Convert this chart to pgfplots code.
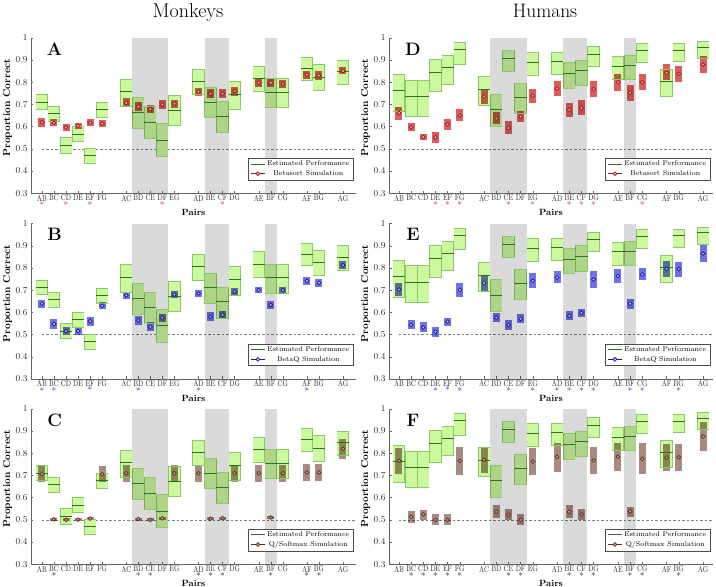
\documentclass[border=0pt]{standalone}
\usepackage{graphicx}
\usepackage{pgfplots}
\pgfplotsset{compat=1.18}
\usepackage{pgfplotstable}

\definecolor{gfill}{RGB}{204,248,158}
\definecolor{gborder}{RGB}{140,200,105}
\definecolor{gmean}{RGB}{45,115,35}
\definecolor{greyreg}{RGB}{218,218,218}
\definecolor{rbox}{RGB}{224,92,92}
\definecolor{rring}{RGB}{150,25,25}
\definecolor{rfill}{RGB}{245,175,175}
\definecolor{bbox}{RGB}{112,112,236}
\definecolor{bring}{RGB}{25,25,130}
\definecolor{bfill}{RGB}{190,190,250}
\definecolor{qbox}{RGB}{168,138,128}
\definecolor{qring}{RGB}{95,45,30}
\definecolor{qfill}{RGB}{200,165,150}
\definecolor{starR}{RGB}{230,40,40}
\definecolor{starB}{RGB}{50,50,230}
\definecolor{starK}{RGB}{40,40,40}

% estimated performance, monkeys / humans (x lo mean hi)
\pgfplotstableread{
x lo m hi
0 0.680 0.710 0.745
1 0.625 0.660 0.692
2 0.482 0.515 0.550
3 0.532 0.567 0.602
4 0.435 0.470 0.503
5 0.642 0.676 0.710
7 0.690 0.757 0.815
8 0.593 0.662 0.730
9 0.549 0.620 0.692
10 0.465 0.540 0.614
11 0.605 0.672 0.740
13 0.744 0.805 0.860
14 0.643 0.710 0.778
15 0.575 0.648 0.715
16 0.678 0.746 0.806
18 0.757 0.816 0.873
19 0.688 0.755 0.816
20 0.688 0.755 0.816
22 0.810 0.862 0.913
23 0.765 0.823 0.880
25 0.790 0.848 0.900
}\greenM
\pgfplotstableread{
x lo m hi
0 0.670 0.762 0.835
1 0.645 0.735 0.810
2 0.645 0.735 0.810
3 0.760 0.842 0.902
4 0.790 0.867 0.922
5 0.882 0.948 0.978
7 0.697 0.768 0.825
8 0.603 0.678 0.747
9 0.847 0.905 0.942
10 0.660 0.732 0.795
11 0.832 0.889 0.933
13 0.835 0.894 0.933
14 0.774 0.840 0.889
15 0.787 0.852 0.900
16 0.873 0.927 0.960
18 0.812 0.872 0.915
19 0.813 0.874 0.920
20 0.889 0.942 0.975
22 0.735 0.804 0.858
23 0.894 0.945 0.975
25 0.907 0.958 0.982
}\greenH

% simulations
\pgfplotstableread{
x lo m hi
0 0.600 0.620 0.638
1 0.603 0.618 0.633
2 0.582 0.596 0.610
3 0.590 0.604 0.618
4 0.603 0.618 0.633
5 0.597 0.614 0.630
7 0.687 0.707 0.727
8 0.670 0.690 0.710
9 0.660 0.679 0.698
10 0.680 0.699 0.718
11 0.683 0.703 0.722
13 0.740 0.757 0.775
14 0.728 0.748 0.768
15 0.728 0.748 0.768
16 0.740 0.760 0.780
18 0.780 0.798 0.815
19 0.780 0.797 0.815
20 0.775 0.793 0.812
22 0.815 0.834 0.852
23 0.810 0.830 0.850
25 0.835 0.851 0.867
}\simA
\pgfplotstableread{
x lo m hi
0 0.620 0.639 0.657
1 0.527 0.547 0.570
2 0.498 0.516 0.535
3 0.497 0.516 0.535
4 0.540 0.560 0.580
5 0.614 0.630 0.646
7 0.660 0.676 0.692
8 0.545 0.565 0.585
9 0.515 0.535 0.555
10 0.558 0.576 0.593
11 0.665 0.680 0.695
13 0.670 0.685 0.702
14 0.560 0.580 0.600
15 0.572 0.589 0.606
16 0.676 0.693 0.710
18 0.685 0.700 0.716
19 0.615 0.633 0.652
20 0.685 0.700 0.716
22 0.725 0.742 0.760
23 0.715 0.733 0.751
25 0.795 0.812 0.830
}\simB
\pgfplotstableread{
x lo m hi
0 0.672 0.706 0.743
1 0.497 0.503 0.510
2 0.494 0.500 0.507
3 0.494 0.501 0.508
4 0.499 0.506 0.512
5 0.672 0.706 0.743
7 0.672 0.710 0.745
8 0.497 0.504 0.510
9 0.494 0.500 0.507
10 0.500 0.507 0.513
11 0.672 0.710 0.745
13 0.672 0.710 0.745
14 0.498 0.505 0.511
15 0.501 0.508 0.514
16 0.672 0.710 0.745
18 0.672 0.710 0.745
19 0.504 0.511 0.518
20 0.672 0.710 0.745
22 0.676 0.714 0.750
23 0.676 0.713 0.750
25 0.775 0.820 0.862
}\simC
\pgfplotstableread{
x lo m hi
0 0.632 0.661 0.690
1 0.580 0.597 0.615
2 0.540 0.553 0.566
3 0.528 0.552 0.575
4 0.585 0.610 0.635
5 0.625 0.650 0.678
7 0.700 0.736 0.770
8 0.610 0.637 0.665
9 0.565 0.594 0.625
10 0.620 0.645 0.670
11 0.708 0.739 0.770
13 0.738 0.772 0.805
14 0.645 0.676 0.705
15 0.653 0.685 0.718
16 0.735 0.769 0.805
18 0.760 0.800 0.835
19 0.716 0.753 0.786
20 0.765 0.800 0.835
22 0.810 0.843 0.880
23 0.800 0.838 0.875
25 0.840 0.880 0.920
}\simD
\pgfplotstableread{
x lo m hi
0 0.675 0.703 0.730
1 0.525 0.544 0.565
2 0.510 0.532 0.555
3 0.490 0.513 0.535
4 0.540 0.558 0.576
5 0.670 0.700 0.730
7 0.695 0.732 0.765
8 0.555 0.576 0.596
9 0.520 0.543 0.565
10 0.550 0.571 0.591
11 0.710 0.742 0.775
13 0.730 0.757 0.785
14 0.565 0.585 0.606
15 0.580 0.598 0.616
16 0.710 0.748 0.785
18 0.730 0.763 0.795
19 0.615 0.639 0.662
20 0.745 0.770 0.800
22 0.760 0.796 0.830
23 0.760 0.795 0.826
25 0.825 0.865 0.905
}\simE
\pgfplotstableread{
x lo m hi
0 0.705 0.766 0.825
1 0.485 0.513 0.540
2 0.500 0.524 0.545
3 0.475 0.500 0.525
4 0.478 0.500 0.525
5 0.700 0.766 0.828
7 0.710 0.770 0.830
8 0.510 0.536 0.565
9 0.500 0.523 0.548
10 0.475 0.500 0.525
11 0.700 0.763 0.825
13 0.715 0.784 0.845
14 0.510 0.536 0.565
15 0.500 0.524 0.550
16 0.705 0.768 0.830
18 0.720 0.785 0.845
19 0.515 0.538 0.560
20 0.705 0.775 0.845
22 0.720 0.780 0.840
23 0.720 0.782 0.840
25 0.810 0.875 0.940
}\simF

% tick labels: pair name, optionally with a coloured asterisk beneath
\newcommand{\plab}[1]{\scalebox{0.78}[1]{#1}}
\newcommand{\sigmk}[1]{\\[-1pt]\textcolor{#1}{\fontsize{9.5}{9.5}\selectfont *}}
\newcommand{\lR}[1]{\plab{#1}\sigmk{starR}}
\newcommand{\lB}[1]{\plab{#1}\sigmk{starB}}
\newcommand{\lK}[1]{\plab{#1}\sigmk{starK}}

\tikzset{panlab/.style={font=\bfseries\fontsize{18}{18}\selectfont}}

\pgfplotsset{
  panel/.style={
    scale only axis, height=155.5pt, anchor=south west,
    ymin=0.3, ymax=1, ytick={0.3,0.4,0.5,0.6,0.7,0.8,0.9,1},
    xtick={0,1,2,3,4,5,7,8,9,10,11,13,14,15,16,18,19,20,22,23,25},
    axis lines=left, axis line style={-, black!60, line width=0.5pt},
    tick align=inside, major tick length=2.5pt, tick style={black!60, line width=0.4pt},
    yticklabel style={font=\fontsize{9}{9}\selectfont, text=black!85},
    xticklabel style={font=\fontsize{8.5}{8.5}\selectfont, text=black!85, align=center, inner sep=1.5pt},
    xlabel={Pairs}, ylabel={Proportion Correct},
    every axis x label/.style={at={(axis description cs:0.5,-0.122)}, anchor=center,
      font=\bfseries\fontsize{9}{9}\selectfont},
    every axis y label/.style={at={(axis description cs:-0.072,0.55)}, rotate=90, anchor=center,
      font=\bfseries\fontsize{10}{10}\selectfont},
    legend style={at={(0.992,0.085)}, anchor=south east, font=\fontsize{7}{8}\selectfont,
      draw=black!70, line width=0.4pt, inner xsep=2pt, inner ysep=1pt, row sep=-1pt,
      cells={anchor=center}},
    legend image code/.code={\draw[mark repeat=2, mark phase=2, #1]
      plot coordinates {(0pt,0pt) (7pt,0pt) (14pt,0pt)};},
  },
}

\newcommand{\estboxes}[1]{%
  \addplot[forget plot, draw=none, mark=none, error bars/.cd, y dir=both, y explicit,
    error mark=none, error bar style={line width=12.2pt, draw=gborder}]
    table[x=x, y=m, y error plus expr=\thisrow{hi}-\thisrow{m},
      y error minus expr=\thisrow{m}-\thisrow{lo}] {#1};
  \addplot[forget plot, draw=none, mark=none, error bars/.cd, y dir=both, y explicit,
    error mark=none, error bar style={line width=11pt, draw=gfill}]
    table[x=x, y=m, y error plus expr=\thisrow{hi}-\thisrow{m},
      y error minus expr=\thisrow{m}-\thisrow{lo}] {#1};
  \addplot[forget plot, only marks, mark=-, mark size=6.1pt,
    mark options={draw=gborder, line width=0.6pt}] table[x=x, y=hi] {#1};
  \addplot[forget plot, only marks, mark=-, mark size=6.1pt,
    mark options={draw=gborder, line width=0.6pt}] table[x=x, y=lo] {#1};
  \addplot[forget plot, only marks, mark=-, mark size=6.1pt,
    mark options={draw=gmean, line width=0.9pt}] table[x=x, y=m] {#1};
}
\newcommand{\simboxes}[4]{%
  \addplot[forget plot, draw=none, mark=none, error bars/.cd, y dir=both, y explicit,
    error mark=none, error bar style={line width=7pt, draw=#2, blend mode=multiply}]
    table[x=x, y=m, y error plus expr=\thisrow{hi}-\thisrow{m},
      y error minus expr=\thisrow{m}-\thisrow{lo}] {#1};
  \addplot[forget plot, only marks, mark=*, mark size=1.9pt,
    mark options={draw=#3, fill=#4, line width=0.7pt}] table[x=x, y=m] {#1};
}
\newcommand{\backdrop}[1]{%
  \draw[black!50, line width=0.5pt, dash pattern=on 2.5pt off 2pt]
    (axis cs:0,0.5) -- (axis cs:#1,0.5);
}
\newcommand{\greyregions}{%
  \fill[greyreg, blend mode=multiply] (axis cs:7.5,0.3) rectangle (axis cs:10.5,1);
  \fill[greyreg, blend mode=multiply] (axis cs:13.5,0.3) rectangle (axis cs:15.5,1);
  \fill[greyreg, blend mode=multiply] (axis cs:18.5,0.3) rectangle (axis cs:19.5,1);
}
\newcommand{\legendfor}[3]{%
  \addlegendimage{draw=gmean, line width=0.9pt}
  \addlegendentry{Estimated Performance}
  \addlegendimage{draw=#1, line width=0.9pt, mark=*, mark size=1.9pt,
    mark options={draw=#1, fill=#2, line width=0.7pt}}
  \addlegendentry{#3}
}

\begin{document}
\begin{tikzpicture}
\useasboundingbox (0,0) rectangle (716pt,587pt);

\node[font=\fontsize{20}{20}\selectfont, anchor=base] at (188pt,569pt) {Monkeys};
\node[font=\fontsize{19.5}{20}\selectfont, anchor=base] at (545pt,569pt) {Humans};

% ---- Monkeys
\begin{axis}[panel, at={(31pt,393.7pt)}, width=325pt, xmin=-0.91, xmax=26.08,
  xticklabels={\lR{AB},\plab{BC},\lR{CD},\plab{DE},\lR{EF},\plab{FG},\plab{AC},\plab{BD},\plab{CE},\lR{DF},\plab{EG},
    \plab{AD},\plab{BE},\lR{CF},\plab{DG},\plab{AE},\plab{BF},\plab{CG},\plab{AF},\plab{BG},\plab{AG}}]
  \backdrop{26.08}
  \estboxes{\greenM}
  \simboxes{\simA}{rbox}{rring}{rfill}
  \greyregions
  \node[panlab] at (axis cs:1.05,0.95) {A};
  \legendfor{rring}{rfill}{Betasort Simulation}
\end{axis}

\begin{axis}[panel, at={(31pt,208pt)}, width=325pt, xmin=-0.91, xmax=26.08,
  xticklabels={\lB{AB},\lB{BC},\plab{CD},\plab{DE},\lB{EF},\plab{FG},\plab{AC},\lB{BD},\plab{CE},\plab{DF},\plab{EG},
    \lB{AD},\plab{BE},\plab{CF},\plab{DG},\plab{AE},\plab{BF},\plab{CG},\lB{AF},\plab{BG},\plab{AG}}]
  \backdrop{26.08}
  \estboxes{\greenM}
  \simboxes{\simB}{bbox}{bring}{bfill}
  \greyregions
  \node[panlab] at (axis cs:1.05,0.95) {B};
  \legendfor{bring}{bfill}{BetaQ Simulation}
\end{axis}

\begin{axis}[panel, at={(31pt,22.7pt)}, width=325pt, xmin=-0.91, xmax=26.08,
  xticklabels={\plab{AB},\lK{BC},\plab{CD},\plab{DE},\plab{EF},\plab{FG},\plab{AC},\lK{BD},\lK{CE},\plab{DF},\plab{EG},
    \lK{AD},\lK{BE},\lK{CF},\plab{DG},\plab{AE},\lK{BF},\plab{CG},\lK{AF},\lK{BG},\plab{AG}}]
  \backdrop{26.08}
  \estboxes{\greenM}
  \simboxes{\simC}{qbox}{qring}{qfill}
  \greyregions
  \node[panlab] at (axis cs:1.05,0.95) {C};
  \legendfor{qring}{qfill}{Q/Softmax Simulation}
\end{axis}

% ---- Humans
\begin{axis}[panel, at={(389pt,393.7pt)}, width=324pt, xmin=-0.82, xmax=25.82,
  xticklabels={\plab{AB},\plab{BC},\plab{CD},\lR{DE},\lR{EF},\lR{FG},\plab{AC},\plab{BD},\lR{CE},\plab{DF},\lR{EG},
    \plab{AD},\lR{BE},\lR{CF},\lR{DG},\plab{AE},\plab{BF},\lR{CG},\plab{AF},\plab{BG},\plab{AG}}]
  \backdrop{25.82}
  \estboxes{\greenH}
  \simboxes{\simD}{rbox}{rring}{rfill}
  \greyregions
  \node[panlab] at (axis cs:1.15,0.95) {D};
  \legendfor{rring}{rfill}{Betasort Simulation}
\end{axis}

\begin{axis}[panel, at={(389pt,208pt)}, width=324pt, xmin=-0.82, xmax=25.82,
  xticklabels={\plab{AB},\plab{BC},\plab{CD},\lB{DE},\lB{EF},\lB{FG},\plab{AC},\plab{BD},\lB{CE},\plab{DF},\lB{EG},
    \lB{AD},\lB{BE},\lB{CF},\lB{DG},\plab{AE},\lB{BF},\lB{CG},\plab{AF},\lB{BG},\plab{AG}}]
  \backdrop{25.82}
  \estboxes{\greenH}
  \simboxes{\simE}{bbox}{bring}{bfill}
  \greyregions
  \node[panlab] at (axis cs:1.15,0.95) {E};
  \legendfor{bring}{bfill}{BetaQ Simulation}
\end{axis}

\begin{axis}[panel, at={(389pt,22.7pt)}, width=324pt, xmin=-0.82, xmax=25.82,
  xticklabels={\plab{AB},\lK{BC},\lK{CD},\lK{DE},\lK{EF},\lK{FG},\plab{AC},\plab{BD},\lK{CE},\lK{DF},\plab{EG},
    \plab{AD},\lK{BE},\lK{CF},\lK{DG},\plab{AE},\lK{BF},\lK{CG},\plab{AF},\lK{BG},\plab{AG}}]
  \backdrop{25.82}
  \estboxes{\greenH}
  \simboxes{\simF}{qbox}{qring}{qfill}
  \greyregions
  \node[panlab] at (axis cs:1.15,0.95) {F};
  \legendfor{qring}{qfill}{Q/Softmax Simulation}
\end{axis}
\end{tikzpicture}
\end{document}
